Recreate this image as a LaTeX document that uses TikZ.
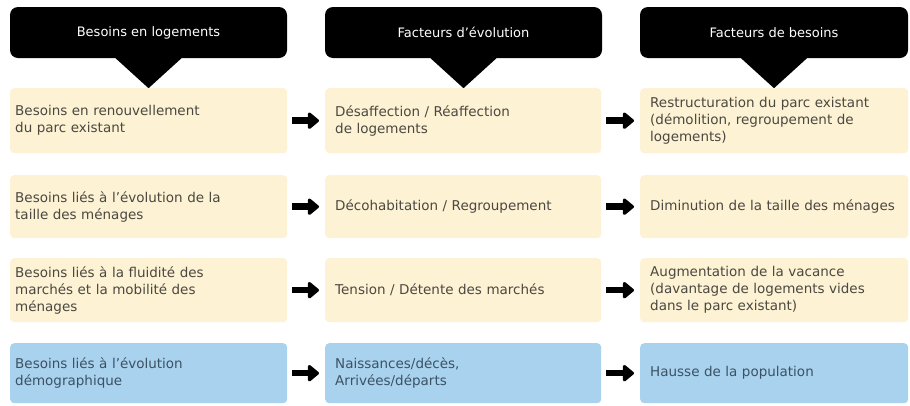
\documentclass[tikz,border=0pt]{standalone}
\usepackage{fontspec}
\setmainfont{DejaVu Sans}
\usetikzlibrary{arrows.meta}
\definecolor{cream}{HTML}{FDF2D3}
\definecolor{skyblue}{HTML}{A9D2EE}
\definecolor{txtgrey}{HTML}{4B4842}
\definecolor{txtblue}{HTML}{3C5263}

\begin{document}
\begin{tikzpicture}[x=1pt, y=-1pt,
  every node/.style={font=\fontsize{13.5}{17}\selectfont},
  head/.style={fill=black, text=white, rounded corners=8pt, inner sep=0pt,
    minimum height=51pt, font=\fontsize{13}{16}\selectfont},
  cell/.style={fill=cream, text=txtgrey, rounded corners=4pt, anchor=north west,
    align=left, inner ysep=0pt},
  blue/.style={fill=skyblue, text=txtblue},
  bigarrow/.style={-{Triangle[length=12pt,width=19pt,round]}, line width=6.5pt,
    shorten <=5pt, shorten >=6pt}]
  \useasboundingbox (0,0) rectangle (910,405);

  % column headers
  \node[head, minimum width=277pt] (ha) at (148.5,32.5) {Besoins en logements};
  \node[head, minimum width=277pt] (hb) at (463.5,32.5) {Facteurs d’évolution};
  \node[head, minimum width=268pt] (hc) at (774,32.5) {Facteurs de besoins};
  \foreach \h in {ha,hb,hc}
    \fill ([xshift=-33pt]\h.south) -- ([xshift=33pt]\h.south)
      -- ([yshift=-30pt]\h.south) -- cycle;

  % first column
  \node[cell, minimum width=277pt, minimum height=65pt, inner xsep=5pt, text width=267pt]
    (a1) at (10,88) {Besoins en renouvellement\\du parc existant};
  \node[cell, minimum width=277pt, minimum height=63pt, inner xsep=5pt, text width=267pt]
    (a2) at (10,175) {Besoins liés à l’évolution de la\\taille des ménages};
  \node[cell, minimum width=277pt, minimum height=64pt, inner xsep=5pt, text width=267pt]
    (a3) at (10,258) {Besoins liés à la fluidité des\\marchés et la mobilité des\\ménages};
  \node[cell, blue, minimum width=277pt, minimum height=60pt, inner xsep=5pt, text width=267pt]
    (a4) at (10,343) {Besoins liés à l’évolution\\démographique};

  % second column
  \node[cell, minimum width=276pt, minimum height=65pt, inner xsep=10pt, text width=256pt]
    (b1) at (325,88) {Désaffection / Réaffection\\de logements};
  \node[cell, minimum width=276pt, minimum height=63pt, inner xsep=10pt, text width=256pt]
    (b2) at (325,175) {Décohabitation / Regroupement};
  \node[cell, minimum width=276pt, minimum height=64pt, inner xsep=10pt, text width=256pt]
    (b3) at (325,258) {Tension / Détente des marchés};
  \node[cell, blue, minimum width=276pt, minimum height=60pt, inner xsep=10pt, text width=256pt]
    (b4) at (325,343) {Naissances/décès,\\Arrivées/départs};

  % third column
  \node[cell, minimum width=268pt, minimum height=65pt, inner xsep=10pt, text width=248pt]
    (c1) at (640,88) {Restructuration du parc existant\\(démolition, regroupement de\\logements)};
  \node[cell, minimum width=268pt, minimum height=63pt, inner xsep=10pt, text width=248pt]
    (c2) at (640,175) {Diminution de la taille des ménages};
  \node[cell, minimum width=268pt, minimum height=64pt, inner xsep=10pt, text width=248pt]
    (c3) at (640,258) {Augmentation de la vacance\\(davantage de logements vides\\dans le parc existant)};
  \node[cell, blue, minimum width=268pt, minimum height=60pt, inner xsep=10pt, text width=248pt]
    (c4) at (640,343) {Hausse de la population};

  % arrows between columns
  \foreach \r in {1,...,4} {
    \draw[bigarrow] (a\r) -- (b\r);
    \draw[bigarrow] (b\r) -- (c\r);
  }
\end{tikzpicture}
\end{document}
